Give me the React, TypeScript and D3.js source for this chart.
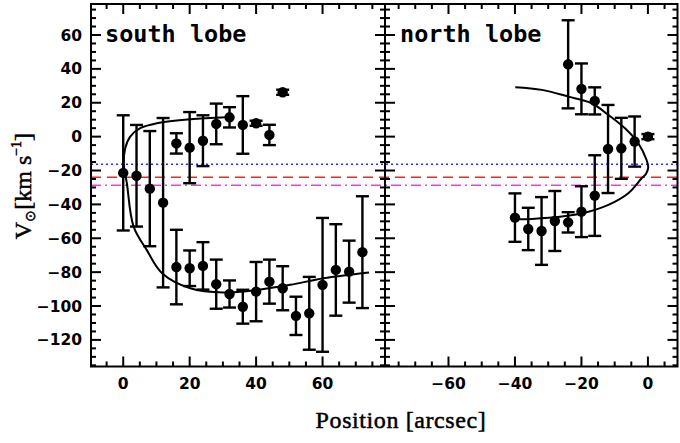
import React from 'react';
import * as d3 from 'd3';

// south lobe, upper branch
const southUpperPos = [16, 20, 24, 28, 32, 36, 40, 44, 48];
const southUpperVel = [-4, -6.5, -2.4, 7.5, 11.4, 6.9, 7.9, 1, 26.2];
const southUpperErr = [6, 21, 15, 12, 6, 17, 1.5, 6, 1.5];

// south lobe, lower branch
const southLowerPos = [0, 4, 8, 12, 16, 20, 24, 28, 32, 36, 40, 44, 48, 52, 56, 60, 64, 68, 72];
const southLowerVel = [-21.4, -23.1, -30.7, -39, -77, -77.7, -76.3, -87.1, -92.9, -100.4, -91.5, -85.6, -89.5, -105.8, -104.3, -87.5, -78.7, -79.7, -68.2];
const southLowerErr = [34, 30, 34, 50, 22, 10.5, 14, 14.5, 8, 10, 17.5, 13, 13, 11.3, 21.5, 39.5, 27, 18.3, 33];

// north lobe
const northUpperPos = [-24, -20, -16, -12, -8, -4, 0];
const northUpperVel = [42.7, 28.2, 21.1, -7.3, -6.9, -2.9, 0];
const northUpperErr = [26, 15, 8, 26, 18, 14.8, 1.5];
const northLowerPos = [-40, -36, -32, -28, -24, -20, -16];
const northLowerVel = [-47.8, -54.5, -55.7, -49.8, -50.6, -44.3, -34.8];
const northLowerErr = [14.3, 12.5, 20, 17.7, 6, 15, 23.8];

// model curves
const southCurvePos = [31.2, 20.2, 10.1, 5.1, 2.1, 0.6, 0.2, 1.1, 3.1, 7.1, 11.7, 20.2, 30.2, 40.3, 50.3, 60.3, 74];
const southCurveVel = [11.5, 10.3, 7.9, 5, 0, -6.9, -17, -27.5, -53, -67, -80.6, -89.5, -92, -90.5, -87.5, -83.6, -80.2];
const northCurvePos = [-39.9, -31.9, -23.9, -16.9, -11.9, -6.9, -2.9, -0.4, 0.1, -0.6, -1.9, -5.9, -11.9, -17.9, -25.9, -34.9, -39.9];
const northCurveVel = [29.2, 27.6, 23.6, 19.7, 12.8, 4.9, -3.9, -13.8, -18, -22, -24.6, -33.4, -40.3, -44.3, -47.2, -48.6, -48.8];

// systemic velocity reference lines
const refLevels = [-16.3, -24, -28.7];
const refColors = ['#2a2aff', '#ff2020', '#ff30ff'];
const refDash = ['2,3', '10,6', '10,4,2,4'];

const yTickValues = [60, 40, 20, 0, -20, -40, -60, -80, -100, -120];
const southTickValues = [0, 20, 40, 60];
const northTickValues = [-60, -40, -20, 0];

const panelTop = 4;
const panelBottom = 366.5;
const xLeft = 91;
const xDiv = 385;
const xRight = 677.5;

const y = d3.scaleLinear().domain([-135.7, 78.3]).range([panelBottom, panelTop]);
const xS = d3.scaleLinear().domain([-9.7, 78.8]).range([xLeft, xDiv]);
const xN = d3.scaleLinear().domain([-79.1, 8.9]).range([xDiv, xRight]);

const fmt = (v: number) => (v < 0 ? '\u2212' + Math.abs(v) : String(v));

function Points({ xs, pos, vel, err }: any) {
  return (
    <g>
      {pos.map((p: number, i: number) => {
        const cx = xs(p);
        const y0 = y(vel[i] - err[i]);
        const y1 = y(vel[i] + err[i]);
        return (
          <g key={i} stroke="#000" strokeWidth={2.4}>
            <line x1={cx} x2={cx} y1={y0} y2={y1} />
            <line x1={cx - 6.5} x2={cx + 6.5} y1={y0} y2={y0} />
            <line x1={cx - 6.5} x2={cx + 6.5} y1={y1} y2={y1} />
            <circle cx={cx} cy={y(vel[i])} r={5.2} fill="#000" stroke="none" />
          </g>
        );
      })}
    </g>
  );
}

function Curve({ xs, pos, vel }: any) {
  const line = d3
    .line<number>()
    .x((d, i) => xs(pos[i]))
    .y((d, i) => y(vel[i]))
    .curve(d3.curveCatmullRom.alpha(0.5));
  return <path d={line(vel) || ''} fill="none" stroke="#000" strokeWidth={2} />;
}

function XTicks({ xs, from, to }: any) {
  const ticks = d3.range(from, to + 0.1, 5);
  return (
    <g stroke="#000" strokeWidth={2}>
      {ticks.map((t: number) => {
        const len = t % 20 === 0 ? 10 : 5;
        const px = xs(t);
        return (
          <g key={t}>
            <line x1={px} x2={px} y1={panelBottom} y2={panelBottom - len} />
            <line x1={px} x2={px} y1={panelTop} y2={panelTop + len} />
          </g>
        );
      })}
    </g>
  );
}

export default function App() {
  const yTicks = d3.range(-135, 76, 5);
  return (
    <svg
      width={680}
      height={443}
      style={{ position: 'absolute', left: 0, top: 0, background: '#fff' }}
    >
      <rect x={0} y={0} width={680} height={443} fill="#fff" />

      {/* reference lines */}
      {refLevels.map((v, i) => (
        <line
          key={i}
          x1={xLeft}
          x2={xRight}
          y1={y(v)}
          y2={y(v)}
          stroke={refColors[i]}
          strokeWidth={1.6}
          strokeDasharray={refDash[i]}
        />
      ))}

      {/* y ticks on frames */}
      <g stroke="#000" strokeWidth={2}>
        {yTicks.map((t) => {
          const len = t % 20 === 0 ? 10 : 5;
          const py = y(t);
          return (
            <g key={t}>
              <line x1={xLeft} x2={xLeft + len} y1={py} y2={py} />
              <line x1={xDiv - len} x2={xDiv + len} y1={py} y2={py} />
              <line x1={xRight - len} x2={xRight} y1={py} y2={py} />
            </g>
          );
        })}
      </g>
      <XTicks xs={xS} from={-5} to={75} />
      <XTicks xs={xN} from={-75} to={5} />

      {/* frames */}
      <rect
        x={xLeft}
        y={panelTop}
        width={xRight - xLeft}
        height={panelBottom - panelTop}
        fill="none"
        stroke="#000"
        strokeWidth={2}
      />
      <line x1={xDiv} x2={xDiv} y1={panelTop} y2={panelBottom} stroke="#000" strokeWidth={2} />

      {/* curves and data */}
      <Curve xs={xS} pos={southCurvePos} vel={southCurveVel} />
      <Curve xs={xN} pos={northCurvePos} vel={northCurveVel} />
      <Points xs={xS} pos={southUpperPos} vel={southUpperVel} err={southUpperErr} />
      <Points xs={xS} pos={southLowerPos} vel={southLowerVel} err={southLowerErr} />
      <Points xs={xN} pos={northUpperPos} vel={northUpperVel} err={northUpperErr} />
      <Points xs={xN} pos={northLowerPos} vel={northLowerVel} err={northLowerErr} />

      {/* tick labels */}
      <g fontFamily="DejaVu Sans" fontWeight="bold" fontSize={15.5} fill="#000">
        {yTickValues.map((t) => (
          <text key={t} x={82} y={y(t)} dy="0.36em" textAnchor="end">
            {fmt(t)}
          </text>
        ))}
        {southTickValues.map((t) => (
          <text key={'s' + t} x={xS(t)} y={389} textAnchor="middle">
            {fmt(t)}
          </text>
        ))}
        {northTickValues.map((t) => (
          <text key={'n' + t} x={xN(t)} y={389} textAnchor="middle">
            {fmt(t)}
          </text>
        ))}
      </g>

      {/* panel titles */}
      <g fontFamily="DejaVu Sans Mono" fontWeight="bold" fontSize={23.5} fill="#000">
        <text x={105} y={42}>south lobe</text>
        <text x={400} y={42}>north lobe</text>
      </g>

      {/* axis titles */}
      <text
        x={401}
        y={428}
        textAnchor="middle"
        fontFamily="Liberation Serif"
        fontSize={24}
        letterSpacing={0.6}
        fill="#000"
        stroke="#000"
        strokeWidth={0.5}
      >
        Position [arcsec]
      </text>
      <text
        transform="translate(31,186) rotate(-90)"
        textAnchor="middle"
        fontFamily="Liberation Serif"
        fontSize={24}
        fill="#000"
        stroke="#000"
        strokeWidth={0.5}
      >
        V<tspan fontSize={14} dy={4}>{'\u2299'}</tspan>
        <tspan dy={-4}>[km s</tspan>
        <tspan fontSize={14} dy={-10}>{'\u22121'}</tspan>
        <tspan dy={10}>]</tspan>
      </text>
    </svg>
  );
}
